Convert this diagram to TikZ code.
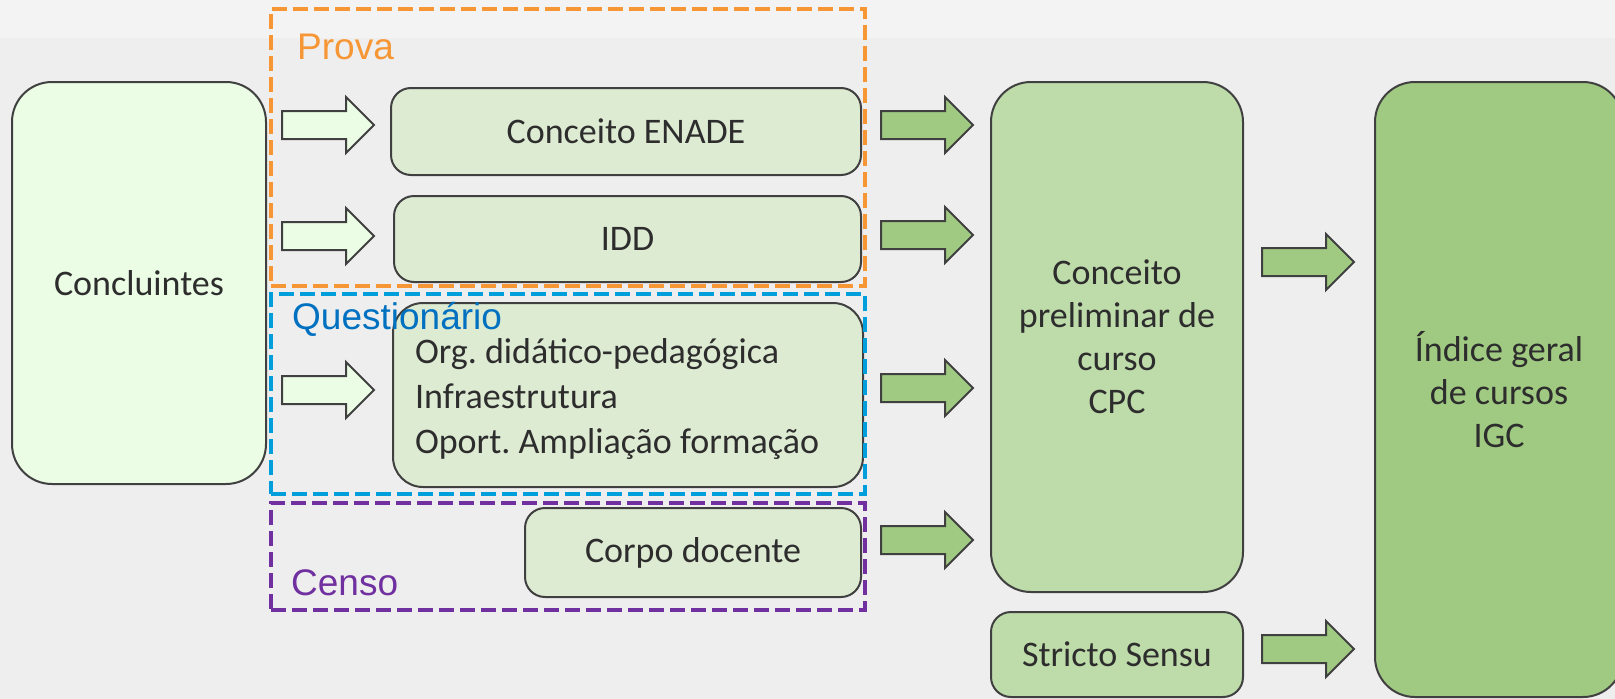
\documentclass[tikz,border=0pt]{standalone}
\usepackage{fontspec}
\setmainfont{Carlito}
\newfontfamily\labelfont{Liberation Sans}
\definecolor{bgc}{RGB}{238,238,238}
\definecolor{bandc}{RGB}{243,243,243}
\definecolor{lightfill}{RGB}{235,253,229}
\definecolor{smallfill}{RGB}{222,235,211}
\definecolor{midfill}{RGB}{190,219,170}
\definecolor{darkfill}{RGB}{160,202,130}
\definecolor{outline}{RGB}{64,64,64}
\definecolor{textc}{RGB}{45,45,45}
\definecolor{orangec}{RGB}{247,150,52}
\definecolor{bluedash}{RGB}{0,158,219}
\definecolor{bluetext}{RGB}{0,112,192}
\definecolor{purplec}{RGB}{112,48,160}
\frenchspacing
\begin{document}
\begin{tikzpicture}[x=1pt,y=-1pt,
  box/.style={draw=outline, line width=2pt, text=textc, align=center, inner sep=0pt,
    font=\fontsize{36}{43}\selectfont},
  bigbox/.style={box, rounded corners=40pt},
  smallbox/.style={box, rounded corners=20pt, fill=smallfill},
  dashbox/.style={draw=#1, line width=3.5pt, dash pattern=on 15pt off 6pt, inner sep=0pt},
  grouplabel/.style={anchor=base west, inner sep=0pt, text=#1,
    font=\labelfont\fontsize{37}{44}\selectfont},
  arrowlook/.style={draw=outline, line width=2pt, line join=miter},
  blockarrow/.pic={\path[pic actions] (0,-14) -- (64,-14) -- (64,-28) -- (92,0)
     -- (64,28) -- (64,14) -- (0,14) -- cycle;}
]
\useasboundingbox (0,0) rectangle (1615,699);
\clip (0,0) rectangle (1615,699);
\fill[bgc] (0,0) rectangle (1615,699);
\fill[bandc] (0,0) rectangle (1615,38);

% boxes
\node[bigbox, fill=lightfill, minimum width=254pt, minimum height=402pt] (concl) at (139,283) {Concluintes};
\node[smallbox, minimum width=470pt, minimum height=87pt] (enade) at (626,131.5) {Conceito ENADE};
\node[smallbox, minimum width=467pt, minimum height=86pt] (idd) at (627.5,239) {IDD};
\node[smallbox, rounded corners=30pt, minimum width=470pt, minimum height=184pt,
      text width=426pt, align=flush left, inner xsep=22pt,
      font=\fontsize{36}{45}\selectfont] (org) at (628,395)
      {\rule{0pt}{34pt}Org. didático-pedagógica\\Infraestrutura\\Oport. Ampliação formação};
\node[smallbox, minimum width=336pt, minimum height=89pt] (corpo) at (693,552.5) {Corpo docente};
\node[bigbox, fill=midfill, minimum width=252pt, minimum height=510pt] (cpc) at (1117,337)
      {Conceito\\preliminar de\\curso\\CPC};
\node[smallbox, fill=midfill, minimum width=252pt, minimum height=85pt] (stricto) at (1117,654.5) {Stricto Sensu};
\node[bigbox, fill=darkfill, minimum width=248pt, minimum height=615pt] (igc) at (1499,389.5)
      {Índice geral\\de cursos\\IGC};

% block arrows
\pic[arrowlook, fill=lightfill] (w1) at (282,125) {blockarrow};
\pic[arrowlook, fill=lightfill] (w2) at (282,236) {blockarrow};
\pic[arrowlook, fill=lightfill] (w3) at (282,390) {blockarrow};
\pic[arrowlook, fill=darkfill] (g1) at (881,125) {blockarrow};
\pic[arrowlook, fill=darkfill] (g2) at (881,235) {blockarrow};
\pic[arrowlook, fill=darkfill] (g3) at (881,388) {blockarrow};
\pic[arrowlook, fill=darkfill] (g4) at (881,540) {blockarrow};
\pic[arrowlook, fill=darkfill] (g5) at (1262,262) {blockarrow};
\pic[arrowlook, fill=darkfill] (g6) at (1262,649) {blockarrow};

% dashed groups
\node[dashbox=orangec, minimum width=594pt, minimum height=277pt] (provabox) at (568,147.5) {};
\node[dashbox=bluedash, minimum width=594pt, minimum height=200pt] (questbox) at (568,394) {};
\node[dashbox=purplec, minimum width=594pt, minimum height=107pt] (censobox) at (568,556.5) {};

\node[grouplabel=orangec] (prova) at (297,59) {Prova};
\node[grouplabel=bluetext] (quest) at (292,329) {Questionário};
\node[grouplabel=purplec] (censo) at (291,595) {Censo};
\end{tikzpicture}
\end{document}
